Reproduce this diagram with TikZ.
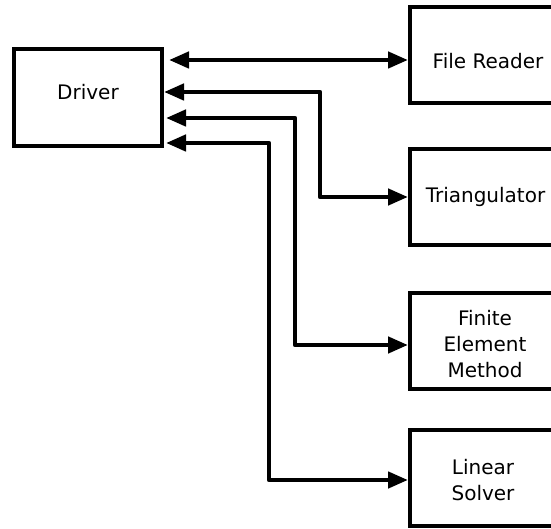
\documentclass[tikz,border=0pt]{standalone}
\usepackage{fontspec}
\setmainfont{DejaVu Sans}
\usetikzlibrary{arrows.meta}
\tikzset{
  box/.style={draw, line width=4pt, minimum width=151pt, minimum height=96pt, inner sep=0pt, fill=white},
  dbox/.style={draw, line width=4pt, minimum width=148pt, minimum height=97pt, inner sep=0pt, fill=white},
  lbl/.style={font=\fontsize{20}{26}\selectfont, align=center, inner sep=0pt},
  conn/.style={line width=4.5pt, line join=round, {Triangle[length=20pt,width=16pt]}-{Triangle[length=20pt,width=16pt]}},
}
\begin{document}
\begin{tikzpicture}[x=1pt,y=-1pt]
\clip (0,0) rectangle (551,529);
\fill[white] (0,0) rectangle (551,529);
% boxes
\node[dbox] (driver) at (88,97.5) {};
\node[lbl] (driverl) at (88,92) {Driver};
\node[box] (fr) at (485.5,55) {};
\node[lbl] (frl) at (488,61) {File Reader};
\node[box] (tri) at (485.5,197.5) {};
\node[lbl] (tril) at (485.5,197) {Triangulator};
\node[box] (fem) at (485.5,341) {};
\node[lbl] (feml) at (485,344) {Finite\\Element\\Method};
\node[box] (ls) at (485.5,477.5) {};
\node[lbl] (lsl) at (483,480) {Linear\\Solver};
% routing coordinates
\coordinate (y1) at (0,60);
\coordinate (c2a) at (320,92);
\coordinate (c2b) at (320,197);
\coordinate (c3a) at (295,118);
\coordinate (c3b) at (295,345);
\coordinate (c4a) at (269,143);
\coordinate (c4b) at (269,480);
% connectors
\draw[conn, shorten <=5pt] (driver.east |- y1) -- (fr.west |- y1);
\draw[conn] (driver.east |- c2a) -- (c2a) -- (c2b) -- (tri.west |- c2b);
\draw[conn, shorten <=2pt] (driver.east |- c3a) -- (c3a) -- (c3b) -- (fem.west |- c3b);
\draw[conn, shorten <=2pt] (driver.east |- c4a) -- (c4a) -- (c4b) -- (ls.west |- c4b);
\end{tikzpicture}
\end{document}
